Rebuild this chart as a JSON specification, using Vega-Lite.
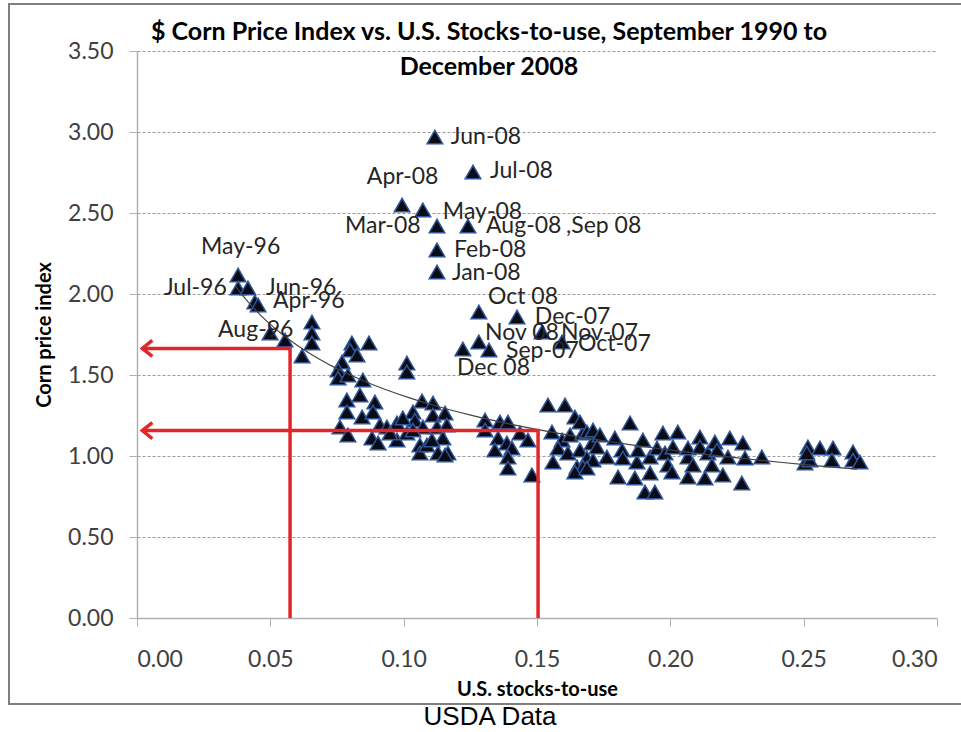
{
  "$schema": "https://vega.github.io/schema/vega-lite/v6.json",
  "autosize": {"type": "none"},
  "padding": {"left": 137, "top": 51, "right": 24, "bottom": 114},
  "width": 800,
  "height": 567,
  "background": "white",
  "config": {
    "view": {"stroke": null},
    "axis": {"labelFont": "Lato", "labelFontSize": 23, "labelColor": "#404040", "titleFont": "Lato", "titleFontWeight": "bold", "titleFontSize": 20, "titleColor": "#000000", "domainColor": "#b0b0b0", "tickColor": "#b0b0b0", "domainWidth": 1.5}
  },
  "title": {
    "text": ["$ Corn Price Index  vs. U.S. Stocks-to-use, September 1990 to", "December 2008"],
    "anchor": "middle", "frame": "group", "dx": -48, "offset": -77, "lineHeight": 35,
    "font": "Lato", "fontSize": 25, "fontWeight": "bold", "color": "#000000"
  },
  "datasets": {
    "pts": [
      {"stocks":0.1117,"price":2.969},{"stocks":0.1260,"price":2.753},{"stocks":0.0994,"price":2.549},{"stocks":0.1072,"price":2.519},
      {"stocks":0.1125,"price":2.420},{"stocks":0.1241,"price":2.420},{"stocks":0.1125,"price":2.272},{"stocks":0.1125,"price":2.136},
      {"stocks":0.1282,"price":1.889},{"stocks":0.1425,"price":1.858},{"stocks":0.1519,"price":1.765},{"stocks":0.1594,"price":1.704},
      {"stocks":0.1282,"price":1.704},{"stocks":0.1320,"price":1.654},{"stocks":0.1222,"price":1.660},
      {"stocks":0.0379,"price":2.117},{"stocks":0.0379,"price":2.037},{"stocks":0.0416,"price":2.037},{"stocks":0.0442,"price":1.951},
      {"stocks":0.0454,"price":1.932},{"stocks":0.0499,"price":1.759},{"stocks":0.0555,"price":1.716},{"stocks":0.0656,"price":1.827},
      {"stocks":0.0656,"price":1.759},{"stocks":0.0656,"price":1.698},{"stocks":0.0619,"price":1.617},
      {"stocks":0.0806,"price":1.698},{"stocks":0.0870,"price":1.698},{"stocks":0.0799,"price":1.654},{"stocks":0.0825,"price":1.623},
      {"stocks":0.0769,"price":1.580},{"stocks":0.0754,"price":1.531},{"stocks":0.0754,"price":1.481},{"stocks":0.0791,"price":1.500},
      {"stocks":0.0847,"price":1.469},{"stocks":0.1012,"price":1.574},{"stocks":0.1012,"price":1.519},{"stocks":0.0836,"price":1.377},
      {"stocks":0.0787,"price":1.346},{"stocks":0.0892,"price":1.333},{"stocks":0.0787,"price":1.272},{"stocks":0.0844,"price":1.241},
      {"stocks":0.0885,"price":1.272},{"stocks":0.0761,"price":1.179},{"stocks":0.0791,"price":1.130},{"stocks":0.0911,"price":1.191},
      {"stocks":0.0881,"price":1.111},{"stocks":0.0904,"price":1.080},{"stocks":0.0975,"price":1.204},{"stocks":0.0975,"price":1.099},
      {"stocks":0.1035,"price":1.272},{"stocks":0.1069,"price":1.340},{"stocks":0.1110,"price":1.327},{"stocks":0.1042,"price":1.222},
      {"stocks":0.1110,"price":1.253},{"stocks":0.1155,"price":1.265},{"stocks":0.1072,"price":1.179},{"stocks":0.1125,"price":1.179},
      {"stocks":0.1061,"price":1.068},{"stocks":0.1061,"price":1.019},{"stocks":0.1087,"price":1.068},{"stocks":0.1147,"price":1.111},
      {"stocks":0.1129,"price":1.019},{"stocks":0.1166,"price":1.019},{"stocks":0.1012,"price":1.142},{"stocks":0.0937,"price":1.179},
      {"stocks":0.0949,"price":1.142},{"stocks":0.1035,"price":1.160},{"stocks":0.0997,"price":1.235},{"stocks":0.1155,"price":1.006},
      {"stocks":0.1106,"price":1.099},{"stocks":0.1305,"price":1.222},{"stocks":0.1305,"price":1.160},{"stocks":0.1361,"price":1.210},
      {"stocks":0.1391,"price":1.210},{"stocks":0.1354,"price":1.111},{"stocks":0.1387,"price":1.080},{"stocks":0.1406,"price":1.049},
      {"stocks":0.1436,"price":1.142},{"stocks":0.1466,"price":1.099},{"stocks":0.1391,"price":0.994},{"stocks":0.1391,"price":0.926},
      {"stocks":0.1481,"price":0.883},{"stocks":0.1342,"price":1.037},{"stocks":0.1162,"price":1.191},
      {"stocks":0.1541,"price":1.315},{"stocks":0.1605,"price":1.315},{"stocks":0.1642,"price":1.241},{"stocks":0.1556,"price":1.148},
      {"stocks":0.1594,"price":1.099},{"stocks":0.1624,"price":1.130},{"stocks":0.1560,"price":0.963},{"stocks":0.1579,"price":1.049},
      {"stocks":0.1616,"price":1.019},{"stocks":0.1650,"price":0.932},{"stocks":0.1672,"price":1.142},{"stocks":0.1706,"price":1.080},
      {"stocks":0.1661,"price":1.037},{"stocks":0.1687,"price":0.988},{"stocks":0.1710,"price":0.975},{"stocks":0.1661,"price":1.210},
      {"stocks":0.1687,"price":1.148},{"stocks":0.1710,"price":1.160},{"stocks":0.1736,"price":1.130},{"stocks":0.1725,"price":1.056},
      {"stocks":0.1762,"price":0.994},{"stocks":0.1792,"price":1.111},{"stocks":0.1819,"price":1.037},{"stocks":0.1822,"price":0.988},
      {"stocks":0.1804,"price":0.870},{"stocks":0.1849,"price":1.204},{"stocks":0.1867,"price":0.864},{"stocks":0.1875,"price":0.963},
      {"stocks":0.1879,"price":1.037},{"stocks":0.1897,"price":1.099},{"stocks":0.1905,"price":0.778},{"stocks":0.1942,"price":0.778},
      {"stocks":0.1924,"price":0.895},{"stocks":0.1924,"price":0.994},{"stocks":0.1950,"price":1.049},{"stocks":0.1972,"price":1.142},
      {"stocks":0.1980,"price":1.019},{"stocks":0.1991,"price":0.944},{"stocks":0.2006,"price":0.901},{"stocks":0.2010,"price":1.056},
      {"stocks":0.2028,"price":1.148},{"stocks":0.2066,"price":0.994},{"stocks":0.2066,"price":0.870},{"stocks":0.2066,"price":1.049},
      {"stocks":0.2085,"price":0.944},{"stocks":0.2111,"price":1.117},{"stocks":0.2111,"price":1.056},{"stocks":0.2130,"price":0.864},
      {"stocks":0.2141,"price":1.019},{"stocks":0.2156,"price":0.944},{"stocks":0.2167,"price":1.086},{"stocks":0.2175,"price":1.037},
      {"stocks":0.2197,"price":0.883},{"stocks":0.2216,"price":0.994},{"stocks":0.2223,"price":1.111},{"stocks":0.2272,"price":1.080},
      {"stocks":0.2280,"price":0.988},{"stocks":0.2268,"price":0.833},{"stocks":0.2343,"price":0.994},{"stocks":0.1672,"price":0.932},
      {"stocks":0.1642,"price":0.901},{"stocks":0.1687,"price":0.926},
      {"stocks":0.2516,"price":1.056},{"stocks":0.2561,"price":1.049},{"stocks":0.2610,"price":1.049},{"stocks":0.2685,"price":1.025},
      {"stocks":0.2685,"price":0.975},{"stocks":0.2505,"price":0.957},{"stocks":0.2523,"price":0.975},{"stocks":0.2606,"price":0.975},
      {"stocks":0.2711,"price":0.963},{"stocks":0.2512,"price":1.019}
    ],
    "labels": [
      {"text":"Jun-08","lx":0.1177,"ly":2.97},{"text":"Jul-08","lx":0.1324,"ly":2.76},{"text":"Apr-08","lx":0.0862,"ly":2.72},
      {"text":"May-08","lx":0.1147,"ly":2.505},{"text":"Mar-08","lx":0.078,"ly":2.42},{"text":"Aug-08","lx":0.1309,"ly":2.42},
      {"text":",Sep 08","lx":0.1609,"ly":2.42},{"text":"Feb-08","lx":0.1189,"ly":2.27},{"text":"Jan-08","lx":0.1181,"ly":2.13},
      {"text":"Oct 08","lx":0.1316,"ly":1.98},{"text":"Dec-07","lx":0.1492,"ly":1.86},{"text":"Nov 08","lx":0.1305,"ly":1.76},
      {"text":"Nov-07","lx":0.159,"ly":1.76},{"text":"Oct-07","lx":0.1654,"ly":1.69},{"text":"Sep-07","lx":0.1384,"ly":1.65},
      {"text":"Dec 08","lx":0.12,"ly":1.546},{"text":"May-96","lx":0.024,"ly":2.29},{"text":"Jul-96","lx":0.0101,"ly":2.04},
      {"text":"Jun-96","lx":0.0484,"ly":2.035},{"text":"Apr-96","lx":0.051,"ly":1.955},{"text":"Aug-96","lx":0.0304,"ly":1.775}
    ],
    "red": [
      {"g":"a","o":0,"x":0.0574,"y":0},{"g":"a","o":1,"x":0.0574,"y":1.664},{"g":"a","o":2,"x":0.002,"y":1.664},
      {"g":"b","o":0,"x":0.1504,"y":0},{"g":"b","o":1,"x":0.1504,"y":1.157},{"g":"b","o":2,"x":0.002,"y":1.157}
    ],
    "frame": [{"x1": -0.048, "x2": 0.33, "y1": 3.79, "y2": -0.531}],
    "caption": [{"text": "USDA Data", "cx": 0.1324, "cy": -0.611}]
  },
  "layer": [
    {
      "data": {"name": "frame"},
      "mark": {"type": "rect", "fill": "transparent", "stroke": "#7f7f7f", "strokeWidth": 2, "clip": false},
      "encoding": {
        "x": {"field": "x1", "type": "quantitative", "scale": {"domain": [0, 0.3], "nice": false, "zero": false}},
        "x2": {"field": "x2"},
        "y": {"field": "y1", "type": "quantitative", "scale": {"domain": [0, 3.5], "nice": false, "zero": false}},
        "y2": {"field": "y2"}
      }
    },
    {
      "data": {"name": "pts"},
      "mark": {"type": "point", "shape": "triangle-up", "size": 240, "filled": true, "fill": "#0b0b16", "stroke": "#2e5597", "strokeWidth": 1.5, "opacity": 1},
      "encoding": {
        "x": {"field": "stocks", "type": "quantitative", "title": "U.S. stocks-to-use",
          "axis": {"values": [0, 0.05, 0.1, 0.15, 0.2, 0.25, 0.3], "format": ".2f", "grid": false, "tickSize": 8, "labelPadding": 22, "titlePadding": 8}},
        "y": {"field": "price", "type": "quantitative", "title": "Corn price index",
          "axis": {"values": [0, 0.5, 1, 1.5, 2, 2.5, 3, 3.5], "format": ".2f", "grid": true, "gridDash": [3, 2], "gridColor": "#9a9a9a", "tickSize": 8, "labelPadding": 16, "titlePadding": 13}}
      }
    },
    {
      "data": {"name": "pts"},
      "transform": [{"regression": "price", "on": "stocks", "method": "pow", "extent": [0.037, 0.27]}],
      "mark": {"type": "line", "color": "#444444", "strokeWidth": 1.2},
      "encoding": {
        "x": {"field": "stocks", "type": "quantitative"},
        "y": {"field": "price", "type": "quantitative"}
      }
    },
    {
      "data": {"name": "red"},
      "mark": {"type": "line", "color": "#e3262b", "strokeWidth": 3.5, "strokeJoin": "miter"},
      "encoding": {
        "x": {"field": "x", "type": "quantitative"},
        "y": {"field": "y", "type": "quantitative"},
        "detail": {"field": "g"},
        "order": {"field": "o"}
      }
    },
    {
      "data": {"name": "red"},
      "transform": [{"filter": "datum.o == 2"}],
      "mark": {"type": "point", "shape": "M2,-1.6L0,0L2,1.6", "size": 100, "filled": false, "stroke": "#e3262b", "strokeWidth": 3.5, "opacity": 1},
      "encoding": {
        "x": {"field": "x", "type": "quantitative"},
        "y": {"field": "y", "type": "quantitative"}
      }
    },
    {
      "data": {"name": "labels"},
      "mark": {"type": "text", "align": "left", "baseline": "middle", "font": "Lato", "fontSize": 23, "color": "#262626"},
      "encoding": {
        "x": {"field": "lx", "type": "quantitative"},
        "y": {"field": "ly", "type": "quantitative"},
        "text": {"field": "text"}
      }
    },
    {
      "data": {"name": "caption"},
      "mark": {"type": "text", "align": "center", "baseline": "middle", "font": "Liberation Sans", "fontSize": 26, "color": "#000000", "clip": false},
      "encoding": {
        "x": {"field": "cx", "type": "quantitative"},
        "y": {"field": "cy", "type": "quantitative"},
        "text": {"field": "text"}
      }
    }
  ]
}
